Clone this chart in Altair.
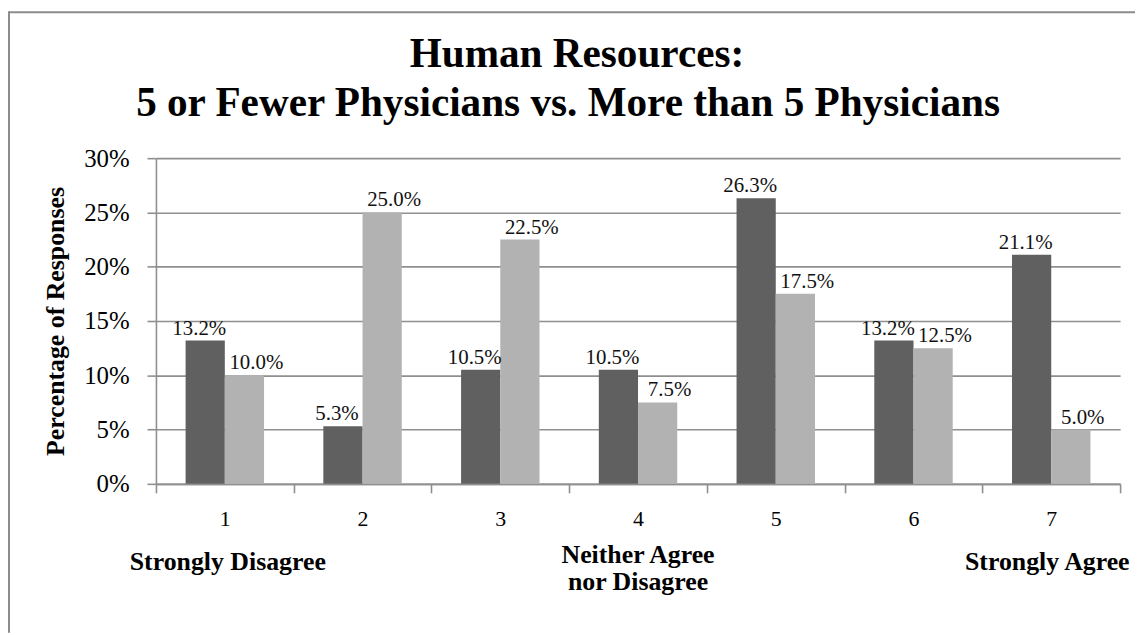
import altair as alt
import pandas as pd

# ---- data ----
categories = ["1", "2", "3", "4", "5", "6", "7"]
series_names = ["5 or Fewer Physicians", "More than 5 Physicians"]
fewer_values = [13.2, 5.3, 10.5, 10.5, 26.3, 13.2, 21.1]
more_values = [10.0, 25.0, 22.5, 7.5, 17.5, 12.5, 5.0]
y_ticks = [0, 5, 10, 15, 20, 25, 30]
title_line1 = "Human Resources:"
title_line2 = "5 or Fewer Physicians vs. More than 5 Physicians"
y_title = "Percentage of Responses"
left_anchor_cat, left_anchor_text = "1", "Strongly Disagree"
mid_anchor_cat, mid_anchor_text = "4", "Neither Agree\nnor Disagree"
right_anchor_cat, right_anchor_text = "7", "Strongly Agree"
series_colors = ["#606060", "#b2b2b2"]

rows = []
for c, a, b in zip(categories, fewer_values, more_values):
    rows.append({"cat": c, "series": series_names[0], "value": a})
    rows.append({"cat": c, "series": series_names[1], "value": b})
df = pd.DataFrame(rows)
df["label"] = df["value"].map(lambda v: f"{v:.1f}%")

W, H = 971, 328
SERIF = "Liberation Serif"
LINE = "#8f8f8f"

x_scale = alt.Scale(domain=categories, paddingInner=0, paddingOuter=0)
xoff_scale = alt.Scale(domain=series_names, paddingInner=0, paddingOuter=0.756)
y_scale = alt.Scale(domain=[0, 30], nice=False, zero=True)

x_axis = alt.Axis(
    title=None, labelAngle=0, tickBand="extent", grid=False,
    labelFont=SERIF, labelFontSize=22, labelColor="#000000", labelPadding=16,
    tickSize=9, tickColor=LINE, tickWidth=1.6, domainColor=LINE, domainWidth=1.6,
)
y_axis = alt.Axis(
    values=y_ticks, labelExpr="datum.value + '%'",
    labelFont=SERIF, labelFontSize=25, labelColor="#000000", labelPadding=18,
    tickSize=9, tickColor=LINE, tickWidth=1.6, domainColor=LINE, domainWidth=1.6,
    grid=True, gridColor=LINE, gridWidth=1.6,
    title=y_title, titleFont=SERIF, titleFontSize=26, titleFontWeight="bold",
    titleColor="#000000", titleX=-88, titleY=H / 2,
)


def xe():
    return alt.X("cat:N", scale=x_scale, axis=x_axis)


def ye():
    return alt.Y("value:Q", scale=y_scale, axis=y_axis)


base = alt.Chart(df)

bars = base.mark_bar().encode(
    x=xe(),
    xOffset=alt.XOffset("series:N", scale=xoff_scale),
    y=ye(),
    color=alt.Color("series:N", scale=alt.Scale(domain=series_names, range=series_colors), legend=None),
)


def label_layer(series, dx):
    return base.transform_filter(alt.datum.series == series).mark_text(
        baseline="alphabetic", dy=-6, dx=dx, font=SERIF, fontSize=21, color="#111111"
    ).encode(
        x=xe(),
        xOffset=alt.XOffset("series:N", scale=xoff_scale),
        y=ye(),
        text="label:N",
    )


labels_a = label_layer(series_names[0], -6)
labels_b = label_layer(series_names[1], 12)


def anchor_layer(cat, text, y, dx):
    return alt.Chart(pd.DataFrame({"cat": [cat], "text": [text]})).mark_text(
        baseline="alphabetic", font=SERIF, fontSize=26, fontWeight="bold", color="#000000",
        lineBreak="\n", lineHeight=27, dx=dx,
    ).encode(x=xe(), y=alt.value(y), text="text:N")


anchor_l = anchor_layer(left_anchor_cat, left_anchor_text, 415, 3)
anchor_m = anchor_layer(mid_anchor_cat, mid_anchor_text, 408, 0)
anchor_r = anchor_layer(right_anchor_cat, right_anchor_text, 415, -4)

t1 = alt.Chart(pd.DataFrame({"t": [title_line1]})).mark_text(
    baseline="alphabetic", align="center", font=SERIF, fontSize=41.5, fontWeight="bold", color="#000000"
).encode(x=alt.value(424), y=alt.value(-92), text="t:N")
t2 = alt.Chart(pd.DataFrame({"t": [title_line2]})).mark_text(
    baseline="alphabetic", align="center", font=SERIF, fontSize=41.5, fontWeight="bold", color="#000000"
).encode(x=alt.value(415), y=alt.value(-42), text="t:N")

frame_df = pd.DataFrame({"k": [0]})
frame_left = alt.Chart(frame_df).mark_rule(color="#8c8c8c", strokeWidth=2).encode(
    x=alt.value(-148), y=alt.value(-148), y2=alt.value(H + 150)
)
frame_top = alt.Chart(frame_df).mark_rule(color="#8c8c8c", strokeWidth=2).encode(
    x=alt.value(-148), x2=alt.value(W + 15), y=alt.value(-147)
)

chart = alt.layer(
    bars, labels_a, labels_b, anchor_l, anchor_m, anchor_r, t1, t2, frame_left, frame_top
).properties(
    width=W, height=H,
    padding={"left": 149, "top": 149, "right": 15, "bottom": 150},
    autosize=alt.AutoSizeParams(type="none"),
    background="#ffffff",
).configure_view(stroke=None)

chart.save("out.html", embed_options={"renderer": "svg", "actions": False})
